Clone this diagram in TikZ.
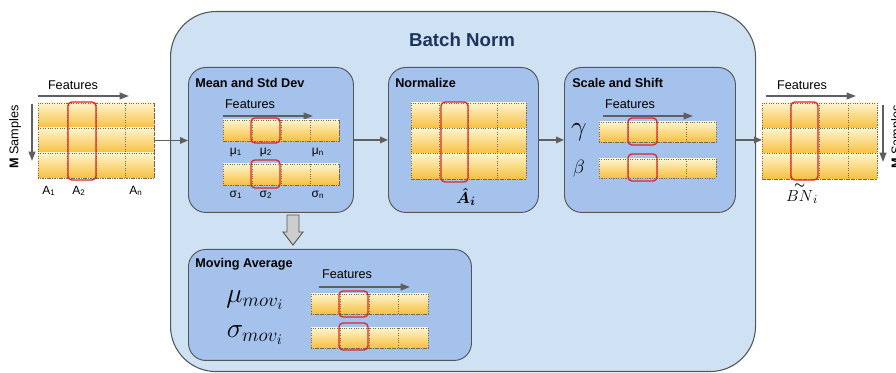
\documentclass[tikz,border=0pt]{standalone}
\usepackage{amsmath}
\usepackage{bm}
\usepackage[no-math]{fontspec}
\setmainfont{Liberation Sans}
\usetikzlibrary{arrows.meta}

\definecolor{bnback}{RGB}{207,226,243}
\definecolor{stepfill}{RGB}{164,194,236}
\definecolor{edgegray}{RGB}{85,85,85}
\definecolor{flowgray}{RGB}{95,95,95}
\definecolor{selred}{RGB}{222,40,40}
\definecolor{titleblue}{RGB}{28,52,92}
\definecolor{celltop}{RGB}{255,244,205}
\definecolor{cellbot}{RGB}{246,192,64}
\definecolor{celldot}{RGB}{120,105,70}
\definecolor{hollow}{RGB}{205,205,205}

\tikzset{
  bigbox/.style={draw=edgegray, line width=0.8pt, fill=bnback, rounded corners=34pt, anchor=north west, inner sep=0},
  stepbox/.style={draw=edgegray, line width=0.7pt, fill=stepfill, rounded corners=13pt, anchor=north west, inner sep=0},
  gridbox/.style={anchor=north west, inner sep=0, outer sep=0},
  flow/.style={draw=flowgray, line width=1pt, -{Triangle[length=6pt,width=5pt]}},
  featarrow/.style={draw=flowgray, line width=1.2pt, -{Triangle[length=7pt,width=5pt]}},
  celledge/.style={draw=celldot, line width=0.6pt, dash pattern=on 0.8pt off 1pt},
  selbox/.style={draw=selred, line width=1pt, rounded corners=3pt},
  boxtitle/.style={font=\bfseries\fontsize{9.5}{11}\selectfont, anchor=west, inner sep=0},
  feat/.style={font=\fontsize{9.5}{11}\selectfont, inner sep=0},
  sublabel/.style={font=\fontsize{9}{10}\selectfont, inner sep=0},
  bigmath/.style={font=\fontsize{21}{23}\selectfont, inner sep=0},
}

% a block of shaded cells with dotted edges: x0, y0, x1, y1, columns, rows
\newcommand{\cellblock}[6]{%
  \pgfmathsetmacro\cbw{(#3-#1)/#5}%
  \pgfmathsetmacro\cbh{(#4-#2)/#6}%
  \foreach \ci in {1,...,#5}{%
    \foreach \cj in {1,...,#6}{%
      \shade[top color=celltop, bottom color=cellbot]
        ({#1+(\ci-1)*\cbw},{#2+(\cj-1)*\cbh}) rectangle ({#1+\ci*\cbw},{#2+\cj*\cbh});
    }%
  }%
  \draw[celledge] (#1,#2) rectangle (#3,#4);
  \foreach \ci in {1,...,#5}{%
    \draw[celledge] ({#1+\ci*\cbw},#2) -- ({#1+\ci*\cbw},#4);
  }%
  \foreach \cj in {1,...,#6}{%
    \draw[celledge] (#1,{#2+\cj*\cbh}) -- (#3,{#2+\cj*\cbh});
  }%
}

\begin{document}
\begin{tikzpicture}[x=0.75pt, y=-0.75pt]
\useasboundingbox (0,0) rectangle (896,373);
\clip (0,0) rectangle (896,373);

% outer Batch Norm panel
\node[bigbox, minimum width=438.75pt, minimum height=270pt] (bn) at (170,11) {};
\node[font=\bfseries\fontsize{14}{16}\selectfont, text=titleblue] (bntitle) at (462,40) {Batch Norm};

% step panels
\node[stepbox, minimum width=123.75pt, minimum height=108.75pt] (msd) at (188,67) {};
\node[stepbox, minimum width=112.5pt, minimum height=108.75pt] (norm) at (388,67) {};
\node[stepbox, minimum width=128.25pt, minimum height=108.75pt] (scale) at (564,67) {};
\node[stepbox, minimum width=212.25pt, minimum height=83.25pt] (mov) at (188,249) {};

\node[boxtitle] (msdtitle) at (195,83) {Mean and Std Dev};
\node[boxtitle] (normtitle) at (395,83) {Normalize};
\node[boxtitle] (scaletitle) at (572,83) {Scale and Shift};
\node[boxtitle] (movtitle) at (195,264) {Moving Average};

% input batch
\node[gridbox, minimum width=87pt, minimum height=56.25pt] (inmat) at (38,103) {};
\cellblock{38}{103}{154}{178}{4}{3}
\draw[selbox] (68,102) rectangle (96,180);
\node[feat] (infeat) at (73,85) {Features};
\coordinate (infa) at (38,96);
\coordinate (infb) at (129,96);
\draw[featarrow] (infa) -- (infb);
\coordinate (insa) at (32,104);
\coordinate (insb) at (32,161);
\draw[featarrow] (insa) -- (insb);
\node[feat, rotate=90] (insamp) at (15,137) {\textbf{M} Samples};
\node[sublabel] (a1) at (49,191) {A\textsubscript{1}};
\node[sublabel] (a2) at (79,191) {A\textsubscript{2}};
\node[sublabel] (an) at (136,191) {A\textsubscript{n}};

% mean and standard deviation rows
\node[feat] (msdfeat) at (250,104) {Features};
\coordinate (msdfa) at (223,116);
\coordinate (msdfb) at (313,116);
\draw[featarrow] (msdfa) -- (msdfb);
\cellblock{223}{120}{339}{141}{4}{1}
\draw[selbox] (251,118) rectangle (280,143);
\cellblock{223}{164}{339}{185}{4}{1}
\draw[selbox] (251,160) rectangle (280,188);
\node[sublabel] (mu1) at (236,152) {μ\textsubscript{1}};
\node[sublabel] (mu2) at (266,152) {μ\textsubscript{2}};
\node[sublabel] (mun) at (318,152) {μ\textsubscript{n}};
\node[sublabel] (sg1) at (236,195) {σ\textsubscript{1}};
\node[sublabel] (sg2) at (266,195) {σ\textsubscript{2}};
\node[sublabel] (sgn) at (318,195) {σ\textsubscript{n}};

% normalized batch
\cellblock{411}{103}{526}{179}{4}{3}
\draw[selbox] (441,102) rectangle (468,182);
\node[font=\fontsize{13}{15}\selectfont, inner sep=0] (ahat) at (466,197) {$\bm{\hat{A}_i}$};

% scale and shift rows
\node[feat] (scfeat) at (630,104) {Features};
\coordinate (scfa) at (603,116);
\coordinate (scfb) at (693,116);
\draw[featarrow] (scfa) -- (scfb);
\cellblock{599}{122}{716}{142}{4}{1}
\draw[selbox] (628,118) rectangle (657,145);
\cellblock{599}{159}{716}{178}{4}{1}
\draw[selbox] (628,154) rectangle (657,181);
\node[font=\fontsize{22}{24}\selectfont, inner sep=0] (gam) at (579,132) {$\gamma$};
\node[font=\fontsize{15}{17}\selectfont, inner sep=0] (bet) at (579,169) {$\beta$};

% moving averages
\node[feat] (movfeat) at (347,274) {Features};
\coordinate (movfa) at (319,287);
\coordinate (movfb) at (410,287);
\draw[featarrow] (movfa) -- (movfb);
\cellblock{311}{294}{428}{314}{4}{1}
\draw[selbox] (339,291) rectangle (368,317);
\cellblock{311}{328}{428}{348}{4}{1}
\draw[selbox] (339,323) rectangle (368,350);
\node[bigmath] (mumov) at (255,300) {$\mu_{mov_i}$};
\node[bigmath] (sgmov) at (255,335) {$\sigma_{mov_i}$};

% output batch
\node[gridbox, minimum width=86.25pt, minimum height=57pt] (outmat) at (762,103) {};
\cellblock{762}{103}{877}{179}{4}{3}
\draw[selbox] (791,102) rectangle (818,180);
\node[feat] (outfeat) at (802,85) {Features};
\coordinate (outfa) at (766,96);
\coordinate (outfb) at (856,96);
\draw[featarrow] (outfa) -- (outfb);
\coordinate (outsa) at (883,105);
\coordinate (outsb) at (883,162);
\draw[featarrow] (outsa) -- (outsb);
\node[feat, rotate=90] (outsamp) at (897,137) {\textbf{M} Samples};
\node[font=\fontsize{13}{15}\selectfont, inner sep=0, anchor=north] (bnout) at (802,182)
  {$\overset{\raisebox{-2.5pt}{$\scriptstyle\bm{\sim}$}}{BN}_i$};

% data flow between stages
\draw[flow] (inmat.east) -- (inmat.east -| msd.west);
\draw[flow] (msd.east) -- (norm.west);
\draw[flow] (norm.east) -- (scale.west);
\draw[flow] (scale.east) -- (scale.east -| outmat.west);

% hollow arrow from the statistics to the moving averages
\coordinate (hollowtop) at (293,215);
\draw[draw=edgegray, fill=hollow, line width=0.7pt, line join=miter]
  (287,215) -- (299,215) -- (299,232) -- (303,232) -- (293,245) -- (283,232) -- (287,232) -- cycle;
\end{tikzpicture}
\end{document}
